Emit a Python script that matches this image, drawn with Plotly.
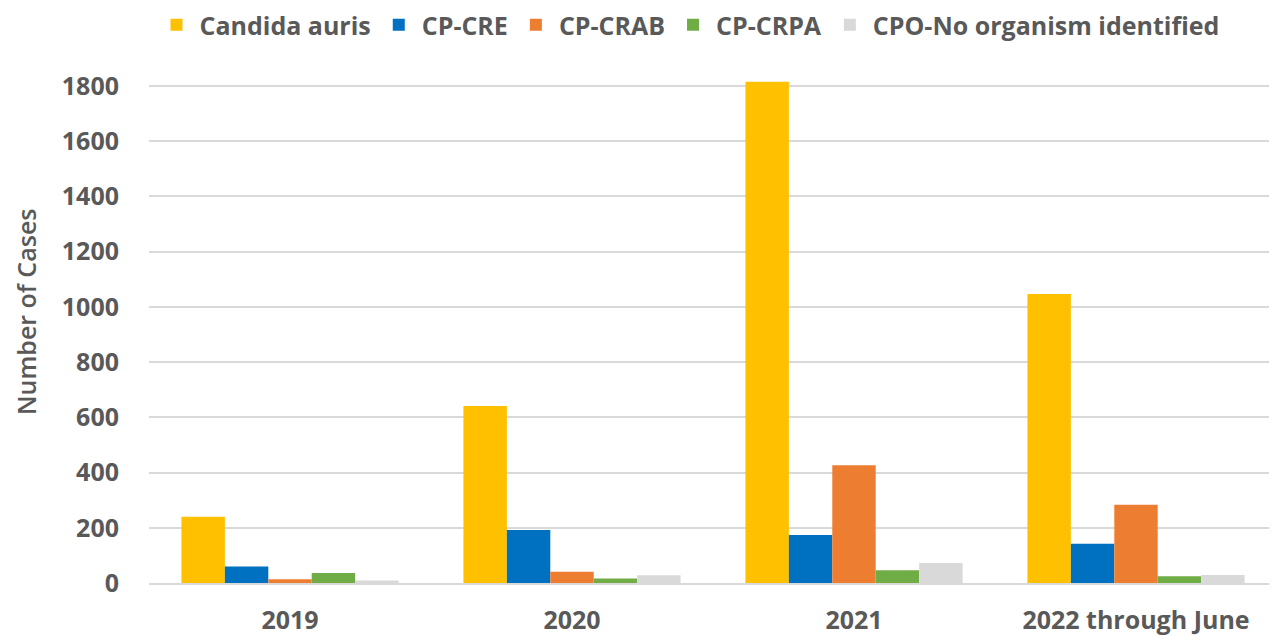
import plotly.graph_objects as go

categories = ["2019", "2020", "2021", "2022 through June"]
candida_auris = [240, 641, 1815, 1046]
cp_cre = [60, 192, 174, 142]
cp_crab = [14, 41, 426, 283]
cp_crpa = [36, 16, 46, 24]
cpo_none = [9, 28, 72, 29]

series = [
    ("Candida auris", candida_auris, "#FFC000"),
    ("CP-CRE", cp_cre, "#0070C0"),
    ("CP-CRAB", cp_crab, "#ED7D31"),
    ("CP-CRPA", cp_crpa, "#70AD47"),
    ("CPO-No organism identified", cpo_none, "#D9D9D9"),
]

fig = go.Figure()
for name, vals, col in series:
    fig.add_trace(go.Bar(x=categories, y=vals, name=name, marker_color=col,
                         marker_line_width=0))

gray = "#595959"
fs = 25
W, H = 1269, 627
L, T, B = 141, 64, 52
pw, ph = W - L, H - T - B
fig.update_layout(
    width=W, height=H,
    barmode="group", bargap=0.23, bargroupgap=0,
    plot_bgcolor="white", paper_bgcolor="white",
    margin=dict(l=L, r=0, t=T, b=B, autoexpand=False),
    font=dict(family="Open Sans", color=gray, size=fs),
    legend=dict(orientation="h", x=(681 - L) / pw, xanchor="center", xref="paper",
                y=1 + (T + 6) / ph, yanchor="top", yref="paper",
                font=dict(family="Open Sans", size=fs, color=gray, weight="bold"),
                itemwidth=36, tracegroupgap=0),
    xaxis=dict(showgrid=False, showline=True, linecolor="#D9D9D9", linewidth=1.5,
               automargin=False,
               tickfont=dict(family="Open Sans", size=fs, color=gray, weight="bold"),
               ticklabelstandoff=14),
    yaxis=dict(range=[0, 1850], tickvals=[0, 200, 400, 600, 800, 1000, 1200, 1400, 1600, 1800],
               automargin=False,
               showgrid=True, gridcolor="#D9D9D9", gridwidth=1.5, zeroline=False,
               tickfont=dict(family="Open Sans", size=fs, color=gray, weight="bold"),
               ticklabelstandoff=29),
    annotations=[dict(text="Number of Cases", textangle=-90, showarrow=False,
                      xref="paper", yref="paper",
                      x=(18 - L) / pw, y=(T + ph - 304) / ph,
                      xanchor="center", yanchor="middle", borderpad=0,
                      font=dict(family="Open Sans", size=25, color=gray, weight=600))],
)
fig.write_html("out.html")
